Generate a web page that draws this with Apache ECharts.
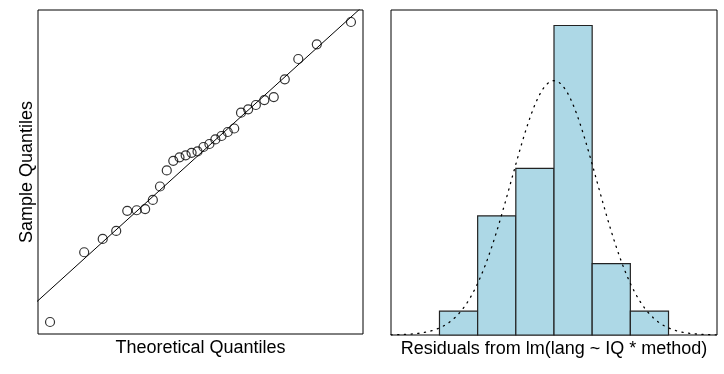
<!DOCTYPE html>
<html>
<head>
<meta charset="utf-8">
<script src="https://cdn.jsdelivr.net/npm/echarts@6/dist/echarts.min.js"></script>
<style>
html,body{margin:0;padding:0;background:#fff;}
#c{width:724px;height:374px;}
</style>
</head>
<body>
<div id="c"></div>
<script>
// Theoretical normal quantiles (n = 30)
const theoretical = [-2.128,-1.645,-1.383,-1.192,-1.036,-0.903,-0.783,-0.674,-0.573,-0.477,
  -0.385,-0.297,-0.210,-0.126,-0.042,0.042,0.126,0.210,0.297,0.385,
  0.477,0.573,0.674,0.783,0.903,1.036,1.192,1.383,1.645,2.128];
// Sorted residuals (sample quantiles)
const residuals = [-2.98,-1.747,-1.512,-1.371,-1.015,-1.005,-0.985,-0.823,-0.585,-0.302,
  -0.131,-0.069,-0.034,0.01,0.034,0.113,0.166,0.246,0.307,0.378,
  0.44,0.719,0.779,0.855,0.943,0.995,1.309,1.668,1.928,2.322];
// Histogram of residuals
const binEdges = [-3,-2,-1,0,1,2,3];
const binCounts = [1,5,7,13,3,1];
// Fitted normal curve parameters
const normMean = 0;
const normSd = 1.12;
const histXRange = [-4.27, 4.27];
const histYMax = 13.65;

const FONT = "'Liberation Sans', Arial, sans-serif";

function ext(arr){
  const lo = Math.min(...arr), hi = Math.max(...arr), d = (hi-lo)*0.04;
  return [lo-d, hi+d];
}
const xr = ext(theoretical), yr = ext(residuals);

// qqline through quartiles (type 7)
function quant(sorted, p){
  const h = (sorted.length-1)*p;
  const lo = Math.floor(h);
  return sorted[lo] + (h-lo)*(sorted[lo+1]-sorted[lo]);
}
const zq1 = -0.6745, zq3 = 0.6745;
const q1 = quant(residuals, 0.25), q3 = quant(residuals, 0.75);
const slope = (q3-q1)/(zq3-zq1);
const intercept = q1 - slope*zq1;
const qqLine = [[-3, intercept + slope*(-3)], [3, intercept + slope*3]];

const qqPoints = theoretical.map((z,i)=>[z, residuals[i]]);

const nTotal = binCounts.reduce((a,b)=>a+b,0);
const binW = binEdges[1]-binEdges[0];
const curve = [];
for (let x = histXRange[0]; x <= histXRange[1] + 1e-9; x += 0.04) {
  const d = Math.exp(-0.5*Math.pow((x-normMean)/normSd,2))/(normSd*Math.sqrt(2*Math.PI));
  curve.push([x, d*nTotal*binW]);
}
const histData = binCounts.map((c,i)=>[binEdges[i], binEdges[i+1], c]);

const hidden = {axisLine:{show:false}, axisTick:{show:false}, axisLabel:{show:false}, splitLine:{show:false}};
const nameStyle = {fontSize:18, color:'#000', fontFamily:FONT};

const chart = echarts.init(document.getElementById('c'), null, {renderer:'canvas'});
chart.setOption({
  animation:false,
  backgroundColor:'#fff',
  grid:[
    {left:38, top:10, width:325, height:324, show:true, borderColor:'#000', borderWidth:1, backgroundColor:'transparent'},
    {left:391, top:10, width:326, height:325, show:true, borderColor:'#000', borderWidth:1, backgroundColor:'transparent'}
  ],
  xAxis:[
    Object.assign({type:'value', gridIndex:0, min:xr[0], max:xr[1], name:'Theoretical Quantiles', nameLocation:'middle', nameGap:5, nameTextStyle:nameStyle}, hidden),
    Object.assign({type:'value', gridIndex:1, min:histXRange[0], max:histXRange[1], name:'Residuals from lm(lang ~ IQ * method)', nameLocation:'middle', nameGap:5, nameTextStyle:nameStyle}, hidden)
  ],
  yAxis:[
    Object.assign({type:'value', gridIndex:0, min:yr[0], max:yr[1], name:'Sample Quantiles', nameLocation:'middle', nameGap:2, nameTextStyle:nameStyle}, hidden),
    Object.assign({type:'value', gridIndex:1, min:0, max:histYMax}, hidden)
  ],
  series:[
    {type:'line', xAxisIndex:0, yAxisIndex:0, data:qqLine, symbol:'none', clip:true,
     lineStyle:{color:'#000', width:1}, z:2},
    {type:'scatter', xAxisIndex:0, yAxisIndex:0, data:qqPoints, symbol:'circle', symbolSize:9,
     itemStyle:{color:'rgba(0,0,0,0)', borderColor:'#000', borderWidth:1.2}, z:3},
    {type:'custom', xAxisIndex:1, yAxisIndex:1, data:histData, encode:{x:[0,1], y:2},
     renderItem:function(params, api){
       const p0 = api.coord([api.value(0), api.value(2)]);
       const p1 = api.coord([api.value(1), 0]);
       return {type:'rect', shape:{x:p0[0], y:p0[1], width:p1[0]-p0[0], height:p1[1]-p0[1]},
               style:{fill:'#ADD8E6', stroke:'#222', lineWidth:1.2}};
     }, z:2},
    {type:'line', xAxisIndex:1, yAxisIndex:1, data:curve, symbol:'none', smooth:false, clip:true,
     lineStyle:{color:'#000', width:1.3, type:[1.2,5.5], cap:'round'}, z:3}
  ]
});
</script>
</body>
</html>
